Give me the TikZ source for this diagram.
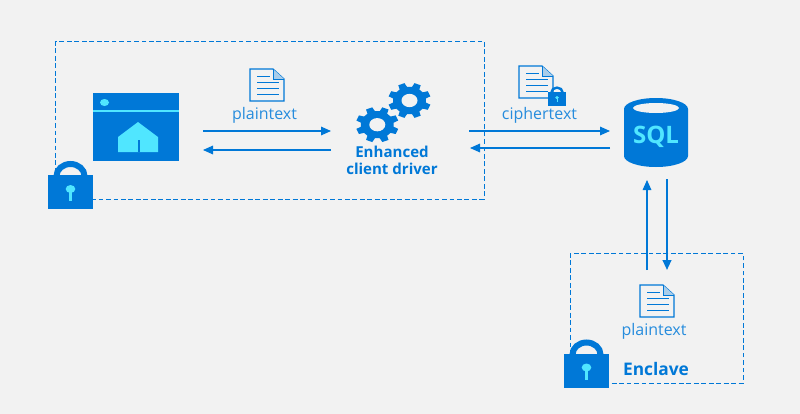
\documentclass[tikz,border=0pt]{standalone}
\usepackage{fontspec}
\setmainfont{Open Sans}
\usetikzlibrary{arrows.meta}
\definecolor{azure}{HTML}{0078D7}
\definecolor{aqua}{HTML}{50E6FF}
\definecolor{paper}{HTML}{F2F2F2}
\tikzstyle{label}=[text=azure!85!white, inner sep=0pt, font=\fontsize{12}{14}\selectfont]
\tikzstyle{blabel}=[text=azure, inner sep=0pt, align=center, font=\fontsize{11.3}{12.7}\selectfont\bfseries]
\tikzstyle{link}=[draw=azure, line width=.8pt, -{Triangle[length=7.5pt,width=6.5pt]}]
\tikzstyle{hlink}=[link, line width=1.5pt]
\tikzstyle{zone}=[draw=azure, line width=.75pt, dash pattern=on 3.6pt off 2pt]
\newcommand{\lockicon}[3]{
  \begin{scope}[shift={(#1,#2)},scale=#3]
    \draw[azure, line width=#3*4.5pt] (-14,1) arc[start angle=180,end angle=360,x radius=14,y radius=12];
    \fill[azure] (-22.5,0) rectangle (22.5,34);
    \fill[aqua] (-1.2,14) rectangle (1.2,26);
    \fill[aqua] (0,14) circle[x radius=4.8,y radius=4];
  \end{scope}}
\newcommand{\docicon}[2]{
  \begin{scope}[shift={(#1,#2)}]
    \draw[azure, line width=.9pt, fill=paper] (0,0) -- (23,0) -- (34,10) -- (34,32) -- (0,32) -- cycle;
    \draw[azure, line width=.7pt, fill=paper!70!azure] (23,0) -- (23,10) -- (34,10);
    \draw[azure, line width=.7pt] (7,7) -- (20,7) (7,13) -- (29,13) (7,19) -- (29,19) (7,25) -- (29,25);
  \end{scope}}
\newcommand{\gearicon}[2]{
  \begin{scope}[shift={(#1,#2)},yscale=.83]
    \fill[azure] (8:16.5) \foreach \a in {0,45,...,315} {
      -- (\a+22.5-14:16.5) -- (\a+22.5-9:21.5) -- (\a+22.5+9:21.5) -- (\a+22.5+14:16.5)} -- cycle;
    \fill[paper] (0,0) circle[radius=8];
  \end{scope}}

\begin{document}
\begin{tikzpicture}[x=.75pt,y=-.75pt]

      \fill[paper] (0,0) rectangle (800,414);
      \useasboundingbox (0,0) rectangle (800,414);

      \draw[zone] (55,41) rectangle (484,199);
      \draw[zone] (570,253) rectangle (743,383);

      % browser window
      \fill[azure] (93,93) rectangle (179,161);
      \fill[aqua] (93,110) rectangle (179,112);
      \fill[aqua] (104.5,102.5) circle[x radius=4.5,y radius=3.5];
      \fill[aqua] (118,152) -- (118,137) -- (138,122) -- (158,137) -- (158,152) -- cycle;
      \fill[azure] (138,140) rectangle (140,152);

      % database
      \fill[azure] (624,109) arc[start angle=180,end angle=360,x radius=32,y radius=11]
        -- (688,156) arc[start angle=0,end angle=180,x radius=32,y radius=11] -- cycle;
      \fill[paper] (656,108) circle[x radius=23,y radius=5];
      \node[text=aqua, inner sep=0pt, font=\fontsize{18}{20}\selectfont\bfseries] (sql) at (656,136.5) {SQL};

      \lockicon{70.5}{175}{1}
      \lockicon{586.5}{353.5}{1}
      \docicon{250}{69}
      \docicon{519}{66}
      \lockicon{557}{92}{.4}
      \docicon{640}{285}
      \gearicon{377.3}{124.7}
      \gearicon{409.5}{100.5}

      \node[label] (p1) at (264.5,115) {plaintext};
      \node[label] (c1) at (539.5,115) {ciphertext};
      \node[label] (p2) at (654,331) {plaintext};
      \node[blabel] (driver) at (392,160.5) {Enhanced\\client driver};
      \node[blabel, font=\fontsize{13}{15}\selectfont\bfseries] (enclave) at (656,369) {Enclave};

      \coordinate (a1) at (203,131);
      \coordinate (a2) at (331,131);
      \coordinate (b1) at (331,150);
      \coordinate (b2) at (203,150);
      \coordinate (c2) at (469,131);
      \coordinate (c3) at (610,131);
      \coordinate (d1) at (610,148);
      \coordinate (d2) at (470,148);
      \coordinate (e1) at (647,270);
      \coordinate (e2) at (647,180);
      \coordinate (f1) at (667,179);
      \coordinate (f2) at (667,270);

      \draw[link] (a1) -- (a2);
      \draw[link] (b1) -- (b2);
      \draw[link] (c2) -- (c3);
      \draw[link] (d1) -- (d2);
      \draw[link] (e1) -- (e2);
      \draw[hlink] (f1) -- (f2);
    \end{tikzpicture}
\end{document}
